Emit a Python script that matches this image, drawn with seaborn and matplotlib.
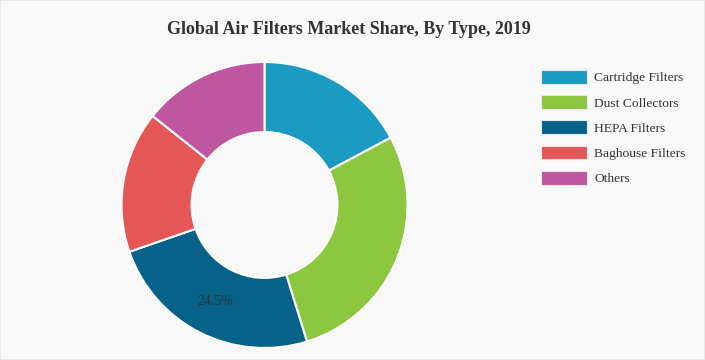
import matplotlib
matplotlib.use("Agg")
import matplotlib.pyplot as plt
import matplotlib.patches as mpatches
import seaborn as sns
import numpy as np

categories = ["Cartridge Filters", "Dust Collectors", "HEPA Filters", "Baghouse Filters", "Others"]
shares = [17.2, 28.0, 24.5, 16.0, 14.3]
colors = ["#1b9ac2", "#8dc63f", "#066289", "#e55656", "#bf56a0"]
shown_labels = ["", "", "24.5%", "", ""]
title = "Global Air Filters Market Share, By Type, 2019"

sns.set_theme(style="white")
plt.rcParams["font.family"] = ["Liberation Serif", "DejaVu Serif"]

bg = "#f8f8f8"
fig = plt.figure(figsize=(7.05, 3.6), dpi=100, facecolor=bg)
ax = fig.add_axes([121.5 / 705, 12 / 360, 286 / 705, 286 / 360])
ax.set_facecolor(bg)

wedges, _ = ax.pie(
    shares,
    colors=colors,
    startangle=90,
    counterclock=False,
    radius=1.0,
    wedgeprops=dict(width=0.49, edgecolor="white", linewidth=1.5),
)
ax.set_xlim(-1, 1)
ax.set_ylim(-1, 1)
ax.set_aspect("equal")
ax.axis("off")

cum = np.cumsum([0] + shares)
for i, lab in enumerate(shown_labels):
    if lab:
        mid = (cum[i] + cum[i + 1]) / 2 / 100 * 360
        ang = np.deg2rad(90 - mid)
        r = 0.755
        ax.text(r * np.cos(ang), r * np.sin(ang), lab, ha="center", va="center",
                fontsize=10, color="#333333")

fig.text(349 / 705, 1 - 30 / 360, title, ha="center", va="center",
         fontsize=13, fontweight="bold", color="#333333")

handles = [mpatches.Patch(facecolor=c, edgecolor="#e8e8e8", linewidth=0.8) for c in colors]
leg = fig.legend(handles, categories, loc="upper left",
                 bbox_to_anchor=(541 / 705, 1 - 70 / 360),
                 frameon=False, fontsize=9.7,
                 handlelength=3.4, handleheight=1.2, handletextpad=0.55,
                 labelspacing=0.8, borderaxespad=0, borderpad=0)
for t in leg.get_texts():
    t.set_color("#333333")

fig.patches.append(mpatches.Rectangle((0, 0), 1, 1, transform=fig.transFigure,
                                      fill=False, edgecolor="#e6e6e6", linewidth=1.2))

fig.savefig("out.png", dpi=100, facecolor=bg)
